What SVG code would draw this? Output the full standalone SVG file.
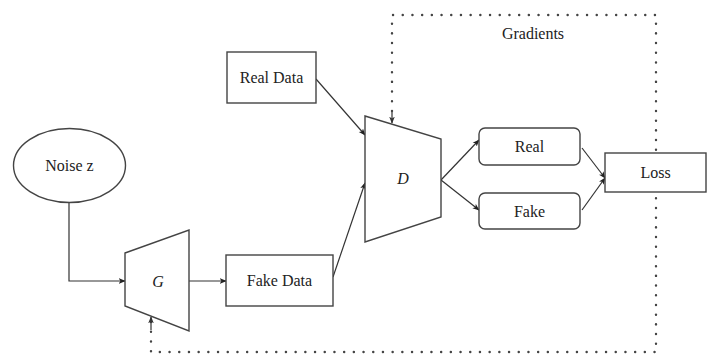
<svg xmlns="http://www.w3.org/2000/svg" width="713" height="356" viewBox="0 0 713 356">
  <defs>
    <marker id="arr" viewBox="0 0 10 10" refX="9" refY="5" markerWidth="7" markerHeight="7" orient="auto" markerUnits="userSpaceOnUse">
      <path d="M0,1 L10,5 L0,9 L2.5,5 Z" fill="#222"/>
    </marker>
    <marker id="arrd" viewBox="0 0 10 10" refX="9" refY="5" markerWidth="7" markerHeight="7" orient="auto" markerUnits="userSpaceOnUse">
      <path d="M0,1 L10,5 L0,9 L2.5,5 Z" fill="#333"/>
    </marker>
  </defs>
  <style>
    .shape { fill: #fff; stroke: #444; stroke-width: 1.4; }
    .lbl { font-family: 'Liberation Serif', 'DejaVu Serif', 'Times New Roman', serif; font-size: 16px; fill: #222; text-anchor: middle; }
    .it { font-style: italic; }
    .edge { fill: none; stroke: #333; stroke-width: 1.2; marker-end: url(#arr); }
    .grad { fill: none; stroke: #444; stroke-width: 2.4; stroke-dasharray: 0.1 9.6; stroke-linecap: round; }
  </style>
  <rect width="713" height="356" fill="#fff"/>

  <!-- connectors -->
  <g id="connectors">
    <polyline class="grad" points="151,322 151,352 656,352 656,15 392,15 392,116"/>
    <line x1="151" y1="330" x2="151" y2="317" stroke="#333" stroke-width="1.2" marker-end="url(#arrd)"/>
    <line x1="392" y1="112" x2="392" y2="123" stroke="#333" stroke-width="1.2" marker-end="url(#arrd)"/>
    <polyline class="edge" points="69,203 69,281 125,281"/>
    <line class="edge" x1="189" y1="281" x2="226" y2="281"/>
    <line class="edge" x1="333" y1="277" x2="365" y2="183"/>
    <line class="edge" x1="316" y1="79" x2="365" y2="135"/>
    <line class="edge" x1="441" y1="180" x2="479" y2="140"/>
    <line class="edge" x1="441" y1="180" x2="479" y2="210"/>
    <line class="edge" x1="582" y1="148" x2="605" y2="178"/>
    <line class="edge" x1="582" y1="210" x2="605" y2="178"/>
  </g>

  <g id="gradients-label">
    <text class="lbl" x="533" y="38.5">Gradients</text>
  </g>

  <g id="noise">
    <ellipse class="shape" cx="69.5" cy="165.5" rx="56" ry="37"/>
    <text class="lbl" x="69.5" y="171">Noise z</text>
  </g>

  <g id="generator">
    <polygon class="shape" points="125,253 189,230 189,331 125,306"/>
    <text class="lbl it" x="158" y="286.5">G</text>
  </g>

  <g id="fake-data">
    <rect class="shape" x="226" y="255" width="107" height="51"/>
    <text class="lbl" x="279.5" y="286">Fake Data</text>
  </g>

  <g id="real-data">
    <rect class="shape" x="227" y="52" width="89" height="51"/>
    <text class="lbl" x="271.5" y="83">Real Data</text>
  </g>

  <g id="discriminator">
    <polygon class="shape" points="365,116 441,139 441,217 365,242"/>
    <text class="lbl it" x="403" y="183.5">D</text>
  </g>

  <g id="real-out">
    <rect class="shape" x="479" y="128" width="101" height="37" rx="6"/>
    <text class="lbl" x="529.5" y="152">Real</text>
  </g>

  <g id="fake-out">
    <rect class="shape" x="479" y="193" width="101" height="36" rx="6"/>
    <text class="lbl" x="529.5" y="216.5">Fake</text>
  </g>

  <g id="loss">
    <rect class="shape" x="605" y="153" width="101" height="39"/>
    <text class="lbl" x="655.5" y="178">Loss</text>
  </g>
</svg>
